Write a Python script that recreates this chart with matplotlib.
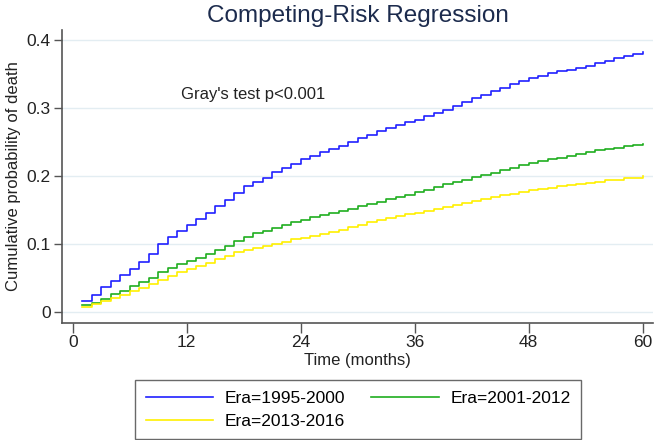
import numpy as np
import matplotlib
matplotlib.use("Agg")
import matplotlib.pyplot as plt

plt.rcParams['font.family'] = ['Liberation Sans', 'DejaVu Sans']

months = np.arange(1, 61)

era_1995 = [0.016, 0.025, 0.037, 0.046, 0.055, 0.064, 0.074, 0.086, 0.100, 0.110, 0.120, 0.128,
            0.137, 0.146, 0.156, 0.165, 0.175, 0.185, 0.191, 0.198, 0.206, 0.212, 0.218, 0.225,
            0.230, 0.235, 0.240, 0.245, 0.250, 0.256, 0.261, 0.266, 0.271, 0.275, 0.279, 0.283,
            0.288, 0.293, 0.298, 0.303, 0.309, 0.315, 0.320, 0.325, 0.330, 0.335, 0.340, 0.344,
            0.348, 0.351, 0.354, 0.356, 0.359, 0.362, 0.366, 0.369, 0.373, 0.377, 0.380, 0.383]

era_2001 = [0.010, 0.014, 0.020, 0.027, 0.032, 0.038, 0.044, 0.051, 0.059, 0.065, 0.071, 0.076,
            0.080, 0.085, 0.091, 0.098, 0.105, 0.111, 0.116, 0.120, 0.124, 0.128, 0.132, 0.136,
            0.140, 0.143, 0.146, 0.149, 0.152, 0.156, 0.159, 0.162, 0.166, 0.169, 0.173, 0.177,
            0.180, 0.184, 0.188, 0.191, 0.195, 0.199, 0.202, 0.205, 0.209, 0.212, 0.216, 0.219,
            0.222, 0.225, 0.227, 0.230, 0.233, 0.236, 0.238, 0.240, 0.242, 0.244, 0.246, 0.248]

era_2013 = [0.008, 0.012, 0.016, 0.021, 0.026, 0.031, 0.036, 0.042, 0.048, 0.053, 0.059, 0.064,
            0.068, 0.073, 0.078, 0.083, 0.088, 0.092, 0.095, 0.098, 0.101, 0.104, 0.107, 0.109,
            0.112, 0.115, 0.118, 0.121, 0.125, 0.129, 0.132, 0.135, 0.138, 0.141, 0.144, 0.146,
            0.149, 0.152, 0.155, 0.158, 0.160, 0.163, 0.166, 0.169, 0.172, 0.174, 0.177, 0.179,
            0.181, 0.183, 0.185, 0.187, 0.189, 0.190, 0.192, 0.194, 0.195, 0.197, 0.198, 0.200]

xticks = [0, 12, 24, 36, 48, 60]
yticks = [0, 0.1, 0.2, 0.3, 0.4]
ytick_labels = ["0", "0.1", "0.2", "0.3", "0.4"]

fig = plt.figure(figsize=(6.56, 4.4), dpi=100)
ax = fig.add_axes([0.0945, 0.266, 0.901, 0.666])

for y in yticks:
    ax.axhline(y, color='#e3edf2', lw=1.0, zorder=0)

l1, = ax.step(months, era_1995, where='post', color='#2020ff', lw=1.2, label='Era=1995-2000')
l2, = ax.step(months, era_2001, where='post', color='#1fae1f', lw=1.2, label='Era=2001-2012')
l3, = ax.step(months, era_2013, where='post', color='#fff000', lw=1.2, label='Era=2013-2016')

ax.set_xlim(-1.13, 61.1)
ax.set_ylim(-0.0157, 0.415)
ax.set_xticks(xticks)
ax.set_yticks(yticks)
ax.set_yticklabels(ytick_labels)
ax.tick_params(axis='both', labelsize=12.5, colors='#222222', direction='out')
ax.tick_params(axis='y', length=6, width=1.0, pad=2, color='#555555')
ax.tick_params(axis='x', length=7, width=1.0, pad=2, color='#555555')
for s in ['top', 'right']:
    ax.spines[s].set_visible(False)
for s in ['left', 'bottom']:
    ax.spines[s].set_color('#555555')
    ax.spines[s].set_linewidth(1.2)

ax.set_xlabel('Time (months)', fontsize=12, color='#222222', labelpad=2)
ax.set_ylabel('Cumulative probability of death', fontsize=12, color='#222222', labelpad=4)
ax.set_title('Competing-Risk Regression', fontsize=17.5, color='#1c2b4d', pad=6)

ax.text(11.4, 0.32, "Gray's test p<0.001", fontsize=12, color='#222222', va='center', ha='left')

leg = fig.legend(handles=[l1, l3, l2], ncol=2, loc='upper center',
                 bbox_to_anchor=(0.546, 0.136), fontsize=12.5, frameon=True, fancybox=False,
                 handlelength=3.9, handletextpad=0.65, columnspacing=1.5, labelspacing=0.45,
                 borderpad=0.6, borderaxespad=0)
leg.get_frame().set_edgecolor('#444444')
leg.get_frame().set_linewidth(1.0)

fig.savefig('out.png', dpi=100)
